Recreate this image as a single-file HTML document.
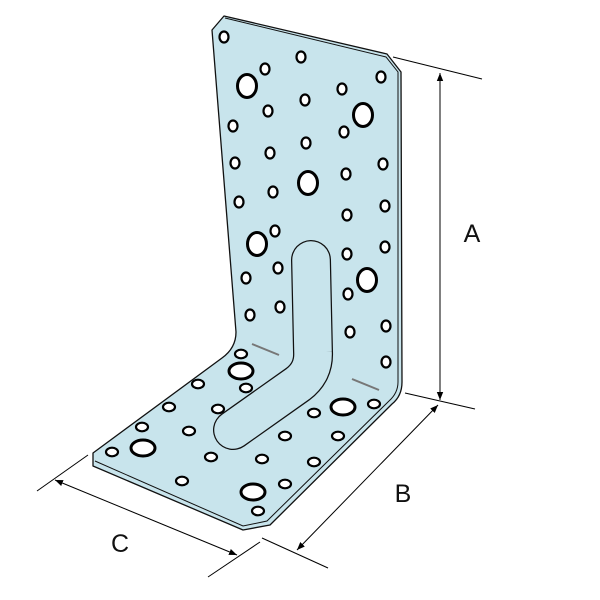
<!DOCTYPE html>
<html><head><meta charset="utf-8"><style>html,body{margin:0;padding:0;background:#fff}svg{display:block}</style></head>
<body>
<svg width="600" height="600" viewBox="0 0 600 600" xmlns="http://www.w3.org/2000/svg">
<defs>
<marker id="ar" viewBox="0 0 10 10" refX="10" refY="5" markerWidth="8" markerHeight="8" orient="auto-start-reverse" markerUnits="userSpaceOnUse"><path d="M0,1 L10,5 L0,9 z" fill="#000"/></marker>
</defs>
<!-- plate -->
<path d="M212,30 L224,16 L387,54 L401,72 L402,382 Q402,396 392,404 L270,525 L243,530 L93,466 L93,453 L222,358 Q236,348 236,332 Z" fill="#c8e4ec" stroke="#111" stroke-width="1.3" stroke-linejoin="round"/>
<!-- thickness lines -->
<path d="M225,18 L386,57 L398,72 L398,382 Q398,393 389,401 L267,521 L243,526 L95,461" fill="none" stroke="#111" stroke-width="1"/>
<!-- slot -->
<path d="M311,260 L313,352 Q314,372 298,384 L233,430" fill="none" stroke="#111" stroke-width="40" stroke-linecap="round" stroke-linejoin="round"/>
<path d="M311,260 L313,352 Q314,372 298,384 L233,430" fill="none" stroke="#c8e4ec" stroke-width="37.5" stroke-linecap="round" stroke-linejoin="round"/>
<!-- bend marks -->
<path d="M252,344 L279,355 M352,379 L379,390" stroke="#777" stroke-width="2"/>
<g fill="#fff" stroke="#000" stroke-width="2.2">
<!-- vertical small holes -->
<g>
<ellipse cx="224" cy="37" rx="4.5" ry="5.5"/><ellipse cx="301" cy="57" rx="4.5" ry="5.5"/><ellipse cx="265" cy="69" rx="4.5" ry="5.5"/><ellipse cx="381" cy="77" rx="4.5" ry="5.5"/><ellipse cx="342" cy="89" rx="4.5" ry="5.5"/><ellipse cx="305" cy="100" rx="4.5" ry="5.5"/><ellipse cx="268" cy="111" rx="4.5" ry="5.5"/><ellipse cx="233" cy="126" rx="4.5" ry="5.5"/><ellipse cx="344" cy="132" rx="4.5" ry="5.5"/><ellipse cx="306" cy="143" rx="4.5" ry="5.5"/><ellipse cx="270" cy="153" rx="4.5" ry="5.5"/><ellipse cx="235" cy="163" rx="4.5" ry="5.5"/><ellipse cx="383" cy="164" rx="4.5" ry="5.5"/><ellipse cx="346" cy="174" rx="4.5" ry="5.5"/><ellipse cx="273" cy="192" rx="4.5" ry="5.5"/><ellipse cx="239" cy="202" rx="4.5" ry="5.5"/><ellipse cx="385" cy="206" rx="4.5" ry="5.5"/><ellipse cx="347" cy="215" rx="4.5" ry="5.5"/><ellipse cx="275" cy="231" rx="4.5" ry="5.5"/><ellipse cx="385" cy="247" rx="4.5" ry="5.5"/><ellipse cx="347" cy="254" rx="4.5" ry="5.5"/><ellipse cx="278" cy="268" rx="4.5" ry="5.5"/><ellipse cx="246" cy="278" rx="4.5" ry="5.5"/><ellipse cx="348" cy="294" rx="4.5" ry="5.5"/><ellipse cx="280" cy="307" rx="4.5" ry="5.5"/><ellipse cx="250" cy="315" rx="4.5" ry="5.5"/><ellipse cx="386" cy="326" rx="4.5" ry="5.5"/><ellipse cx="350" cy="332" rx="4.5" ry="5.5"/><ellipse cx="386" cy="362" rx="4.5" ry="5.5"/>
</g>
<g stroke-width="3">
<ellipse cx="247" cy="86" rx="9.5" ry="11.5"/><ellipse cx="363" cy="115" rx="9.5" ry="11.5"/><ellipse cx="308" cy="183" rx="9.5" ry="11.5"/><ellipse cx="257" cy="244" rx="9.5" ry="11.5"/><ellipse cx="367" cy="280" rx="9.5" ry="11.5"/>
</g>
<g>
<ellipse cx="241" cy="354" rx="6" ry="4.3"/><ellipse cx="198" cy="384" rx="6" ry="4.3"/><ellipse cx="246" cy="388" rx="6" ry="4.3"/><ellipse cx="169" cy="407" rx="6" ry="4.3"/><ellipse cx="218" cy="409" rx="6" ry="4.3"/><ellipse cx="142" cy="427" rx="6" ry="4.3"/><ellipse cx="189" cy="431" rx="6" ry="4.3"/><ellipse cx="112" cy="452" rx="6" ry="4.3"/><ellipse cx="211" cy="457" rx="6" ry="4.3"/><ellipse cx="182" cy="481" rx="6" ry="4.3"/><ellipse cx="262" cy="459" rx="6" ry="4.3"/><ellipse cx="285" cy="436" rx="6" ry="4.3"/><ellipse cx="314" cy="413" rx="6" ry="4.3"/><ellipse cx="374" cy="404" rx="6" ry="4.3"/><ellipse cx="338" cy="436" rx="6" ry="4.3"/><ellipse cx="314" cy="462" rx="6" ry="4.3"/><ellipse cx="285" cy="484" rx="6" ry="4.3"/><ellipse cx="258" cy="511" rx="6" ry="4.3"/>
</g>
<g stroke-width="3">
<ellipse cx="241" cy="371" rx="12" ry="8"/><ellipse cx="143" cy="448" rx="12" ry="8"/><ellipse cx="343" cy="407" rx="12" ry="8"/><ellipse cx="253" cy="492" rx="12" ry="8"/>
</g>
</g>
<!-- dimensions -->
<g stroke="#000" stroke-width="1" fill="none">
<line x1="393" y1="57" x2="482" y2="79"/>
<line x1="405" y1="393" x2="475" y2="409"/>
<line x1="440" y1="73" x2="440" y2="400" marker-start="url(#ar)" marker-end="url(#ar)"/>
<line x1="262" y1="538" x2="328" y2="568"/>
<line x1="438" y1="405" x2="297" y2="550" marker-start="url(#ar)" marker-end="url(#ar)"/>
<line x1="37" y1="491" x2="88" y2="455"/>
<line x1="208" y1="577" x2="260" y2="542"/>
<line x1="55" y1="480" x2="237" y2="555" marker-start="url(#ar)" marker-end="url(#ar)"/>
</g>
<g font-family="Liberation Sans, sans-serif" font-size="25" fill="#111" text-anchor="middle">
<text x="472" y="242">A</text>
<text x="403" y="502">B</text>
<text x="120" y="552">C</text>
</g>
</svg>
</body></html>
